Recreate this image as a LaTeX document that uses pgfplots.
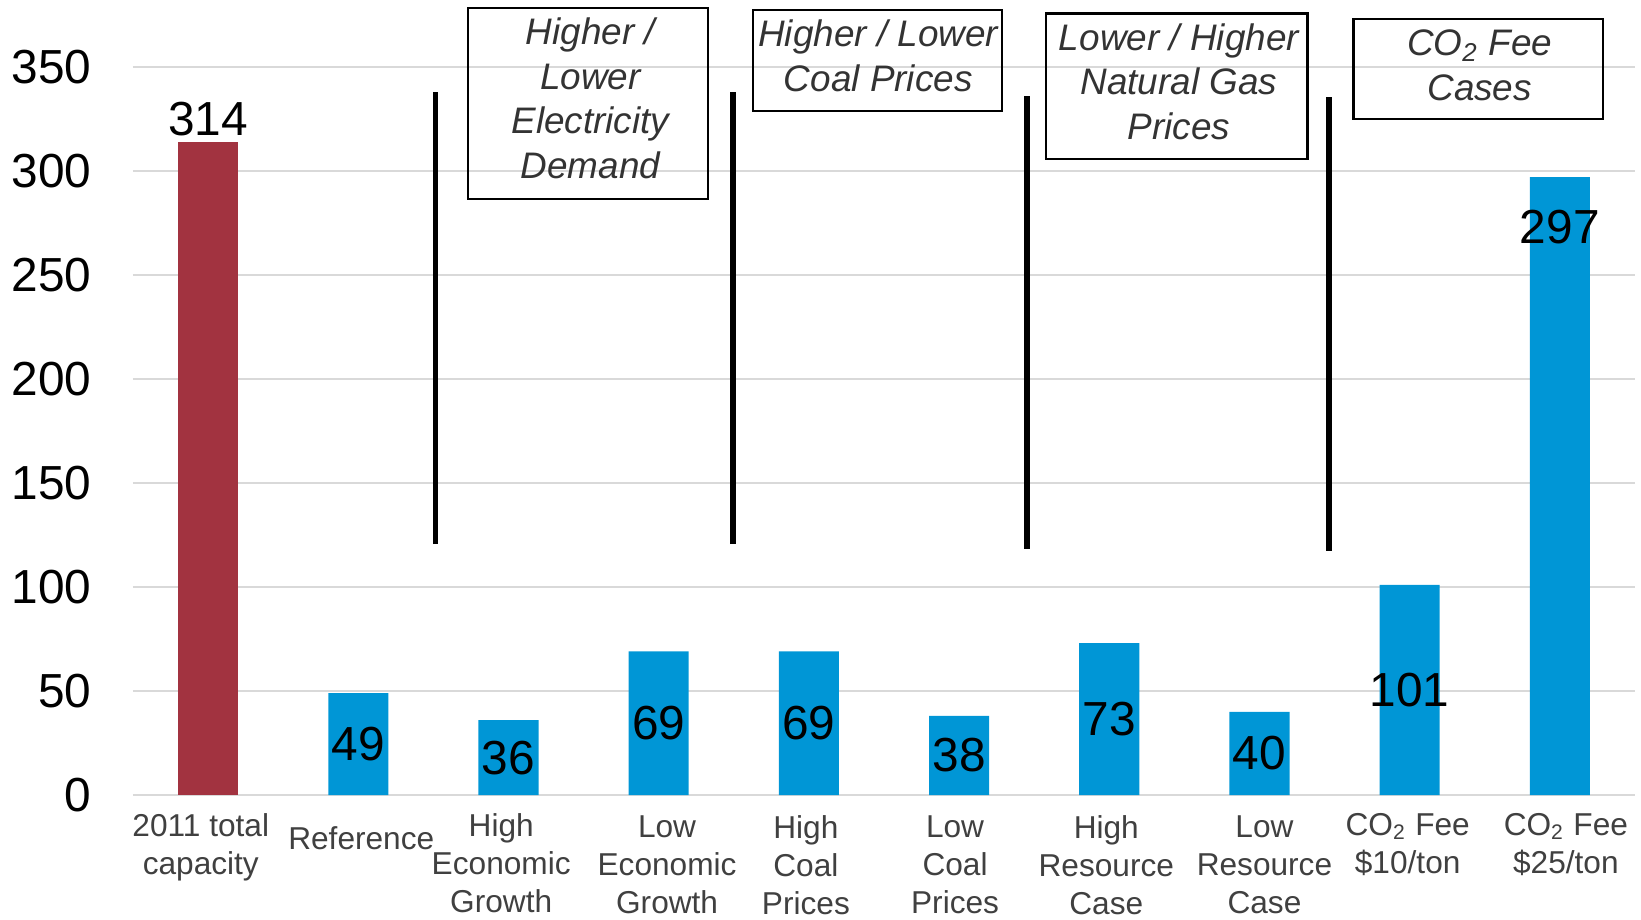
\documentclass[border=0pt]{standalone}
\usepackage{fontspec}
\setmainfont{Liberation Sans}
\usepackage{pgfplots}
\pgfplotsset{compat=1.18}
\definecolor{barred}{RGB}{162,51,64}
\definecolor{barblue}{RGB}{0,150,214}
\definecolor{gridgray}{RGB}{217,217,217}
\definecolor{labgray}{RGB}{64,64,64}
\definecolor{boxtext}{RGB}{51,51,51}
\tikzset{
  cat/.style={font=\fontsize{9}{10.8}\selectfont, text=labgray, align=center, anchor=north, inner sep=0pt, yshift=-1.78mm},
  val/.style={font=\fontsize{13.6}{16}\selectfont},
  boxt/.style={align=center, font=\itshape\fontsize{10.5}{12.7}\selectfont, text=boxtext},
}
\begin{document}
\begin{tikzpicture}
\path[use as bounding box] (-13.3mm,-12.5mm) rectangle (150.8mm,79.5mm);
\begin{axis}[
  scale only axis, width=150.2mm, height=72.8mm,
  xmin=-0.5, xmax=9.5, ymin=0, ymax=350,
  axis line style={draw=none},
  ymajorgrids, major grid style={gridgray, line width=0.6pt},
  ytick={0,50,...,350},
  xtick=\empty,
  major tick length=0pt,
  tick style={draw=none},
  yticklabel style={font=\fontsize{13.6}{16}\selectfont, inner sep=0pt, xshift=-4.1mm, anchor=east},
  /pgf/number format/assume math mode=true,
  clip=false,
]
\addplot[ybar, bar width=0.4, bar shift=0pt, fill=barred, draw=none] coordinates {(0,314)};
\addplot[ybar, bar width=0.4, bar shift=0pt, fill=barblue, draw=none] coordinates {(1,49) (2,36) (3,69) (4,69) (5,38) (6,73) (7,40) (8,101) (9,297)};

\node[cat, xshift=-0.73mm] at (axis cs:0,0) {2011 total\\capacity};
\node[cat, xshift=0.3mm] at (axis cs:1,0) {\rule{0pt}{3.6mm}Reference};
\node[cat, xshift=-0.73mm] at (axis cs:2,0) {High\\Economic\\Growth};
\node[cat, xshift=0.84mm, yshift=-0.2mm] at (axis cs:3,0) {Low\\Economic\\Growth};
\node[cat, xshift=-0.3mm, yshift=-0.2mm] at (axis cs:4,0) {High\\Coal\\Prices};
\node[cat, xshift=-0.4mm, yshift=-0.2mm] at (axis cs:5,0) {Low\\Coal\\Prices};
\node[cat, xshift=-0.3mm, yshift=-0.2mm] at (axis cs:6,0) {High\\Resource\\Case};
\node[cat, xshift=0.5mm, yshift=-0.2mm] at (axis cs:7,0) {Low\\Resource\\Case};
\node[cat, xshift=-0.2mm] at (axis cs:8,0) {CO\textsubscript{2} Fee\\\$10/ton};
\node[cat, xshift=0.6mm] at (axis cs:9,0) {CO\textsubscript{2} Fee\\\$25/ton};

\node[val] at (axis cs:0,325) {314};
\node[val] at (axis cs:1,24.5) {49};
\node[val] at (axis cs:2,18) {36};
\node[val] at (axis cs:3,34.5) {69};
\node[val] at (axis cs:4,34.5) {69};
\node[val] at (axis cs:5,19) {38};
\node[val] at (axis cs:6,36.5) {73};
\node[val] at (axis cs:7,20) {40};
\node[val] at (axis cs:8,50.5) {101};
\node[val] at (axis cs:9,273) {297};

\draw[line width=1.6pt] (axis cs:1.513,120.6) -- (axis cs:1.513,338);
\draw[line width=1.6pt] (axis cs:3.494,120.6) -- (axis cs:3.494,338);
\draw[line width=1.6pt] (axis cs:5.453,118.5) -- (axis cs:5.453,336);
\draw[line width=1.6pt] (axis cs:7.461,117.5) -- (axis cs:7.461,335.4);

\draw[line width=0.6pt] (axis cs:1.730,286.5) rectangle (axis cs:3.329,378.2);
\draw[line width=0.6pt] (axis cs:3.630,328.8) rectangle (axis cs:5.288,377.2);
\draw[line width=0.6pt] (axis cs:5.581,305.8) rectangle (axis cs:7.320,375.7);
\draw[line width=0.6pt] (axis cs:7.626,325) rectangle (axis cs:9.285,373.2);

\node[boxt] at (axis cs:2.545,334.9) {Higher /\\Lower\\Electricity\\Demand};
\node[boxt] at (axis cs:4.462,355.3) {Higher / Lower\\Coal Prices};
\node[boxt] at (axis cs:6.464,343) {Lower / Higher\\Natural Gas\\Prices};
\node[boxt] at (axis cs:8.466,350.8) {CO\textsubscript{2} Fee\\Cases};
\end{axis}
\end{tikzpicture}
\end{document}
